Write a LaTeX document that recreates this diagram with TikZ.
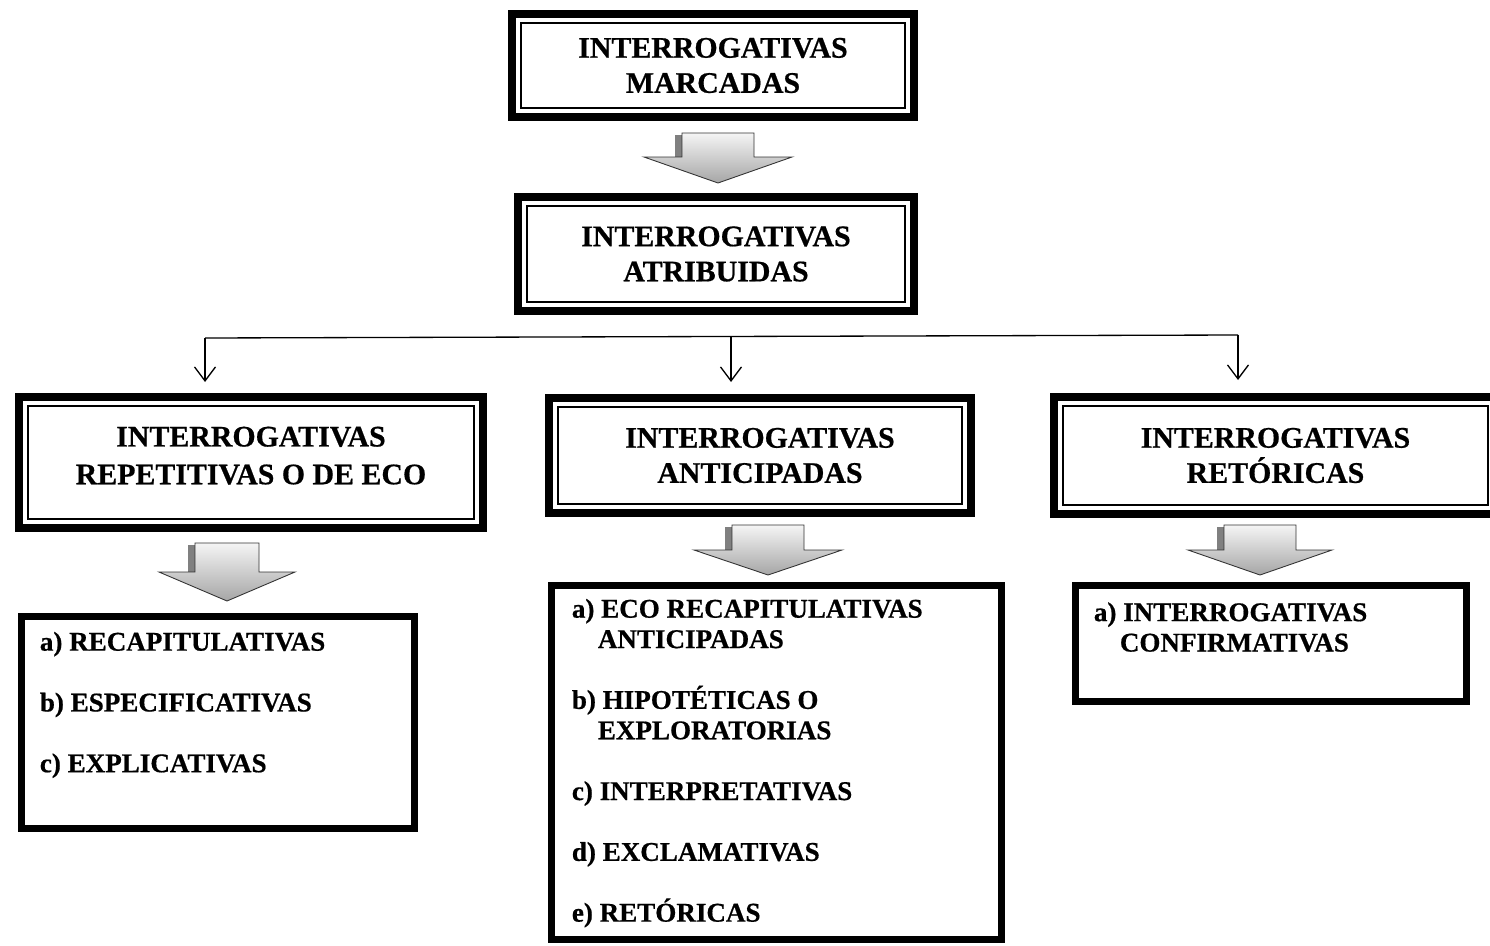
\documentclass[tikz,border=0pt]{standalone}
\usepackage{fontspec}
\setmainfont[BoldFeatures={FakeBold=0.6}]{Liberation Serif}
\usetikzlibrary{arrows.meta,calc}
\tikzset{
    titlebox/.style={draw, line width=0.16cm, align=center, inner sep=0pt,
        font=\bfseries\fontsize{17}{20}\selectfont},
    listbox/.style={draw, line width=0.14cm, inner sep=0pt},
    listtext/.style={anchor=north west, align=left, inner sep=0pt,
        font=\bfseries\fontsize{15.4}{17.3}\selectfont},
    innerline/.style={draw=black, line width=0.03cm},
    blockarrow/.style={draw=black!80, line width=0.5pt, top color=black!4, bottom color=black!35}
}
\newcommand{\hangin}{\hspace*{0.52cm}}

\begin{document}
\begin{tikzpicture}[x=0.02cm, y=-0.02cm]
            \useasboundingbox (0,0) rectangle (1490,946);
            \node[titlebox, minimum width=8.04cm, minimum height=2.06cm] (marcadas) at (713,65.5) {INTERROGATIVAS\\MARCADAS};
            \node[titlebox, minimum width=7.92cm, minimum height=2.28cm] (atribuidas) at (716,254) {INTERROGATIVAS\\ATRIBUIDAS};
            \node[titlebox, minimum width=9.28cm, minimum height=2.62cm, text depth=8pt, font=\bfseries\fontsize{17}{21.5}\selectfont] (repet) at (251,462.5) {INTERROGATIVAS\\REPETITIVAS O DE ECO};
            \node[titlebox, minimum width=8.44cm, minimum height=2.30cm] (antic) at (760,455.5) {INTERROGATIVAS\\ANTICIPADAS};
            \node[titlebox, minimum width=8.86cm, minimum height=2.34cm] (retor) at (1275.5,455.5) {INTERROGATIVAS\\RETÓRICAS};
            \foreach \nm in {marcadas,atribuidas,repet,antic,retor}
                \draw[innerline] ($(\nm.north west)+(13,13)$) rectangle ($(\nm.south east)+(-13,-13)$);
            \node[listbox, minimum width=7.86cm, minimum height=4.24cm] (repetlist) at (218,722.5) {};
            \node[listbox, minimum width=9.00cm, minimum height=7.08cm] (anticlist) at (776.5,762.5) {};
            \node[listbox, minimum width=7.82cm, minimum height=2.32cm] (retorlist) at (1271,643.5) {};
            \node[listtext] (repettext) at ([shift={(21.5,18.5)}]repetlist.north west)
                {a) RECAPITULATIVAS\\[17.3pt]b) ESPECIFICATIVAS\\[17.3pt]c) EXPLICATIVAS};
            \node[listtext] (antictext) at ([shift={(23.5,16.5)}]anticlist.north west)
                {a) ECO RECAPITULATIVAS\\\hangin ANTICIPADAS\\[17.3pt]b) HIPOTÉTICAS O\\\hangin EXPLORATORIAS\\[17.3pt]c) INTERPRETATIVAS\\[17.3pt]d) EXCLAMATIVAS\\[17.3pt]e) RETÓRICAS};
            \node[listtext] (retortext) at ([shift={(21.5,20)}]retorlist.north west)
                {a) INTERROGATIVAS\\\hangin CONFIRMATIVAS};
            \foreach \cx/\ty/\hy/\py/\sw/\hw in {718/133/157/183/36/74, 227/543/572/601/32/68, 768/525/550/575/36/74, 1260/525/550/575/36/72} {
                \fill[black!50] (\cx-\sw-7,\ty+2) rectangle (\cx-\sw,\hy);
                \draw[blockarrow] (\cx-\sw,\ty) -- (\cx+\sw,\ty) -- (\cx+\sw,\hy) -- (\cx+\hw,\hy) -- (\cx,\py) -- (\cx-\hw,\hy) -- (\cx-\sw,\hy) -- cycle;
            }
            \coordinate (busL) at (205,338);
            \coordinate (busM) at (731,336.5);
            \coordinate (busR) at (1238,335);
            \coordinate (tipL) at (205,382);
            \coordinate (tipM) at (731,382);
            \coordinate (tipR) at (1238,380);
            \draw[line width=0.75pt] (busL) -- (busR);
            \begin{scope}[line width=0.75pt, ->, >={Straight Barb[length=2.8mm,width=4.2mm]}]
                \draw (busL) -- (tipL);
                \draw (busM) -- (tipM);
                \draw (busR) -- (tipR);
            \end{scope}
        \end{tikzpicture}
\end{document}
